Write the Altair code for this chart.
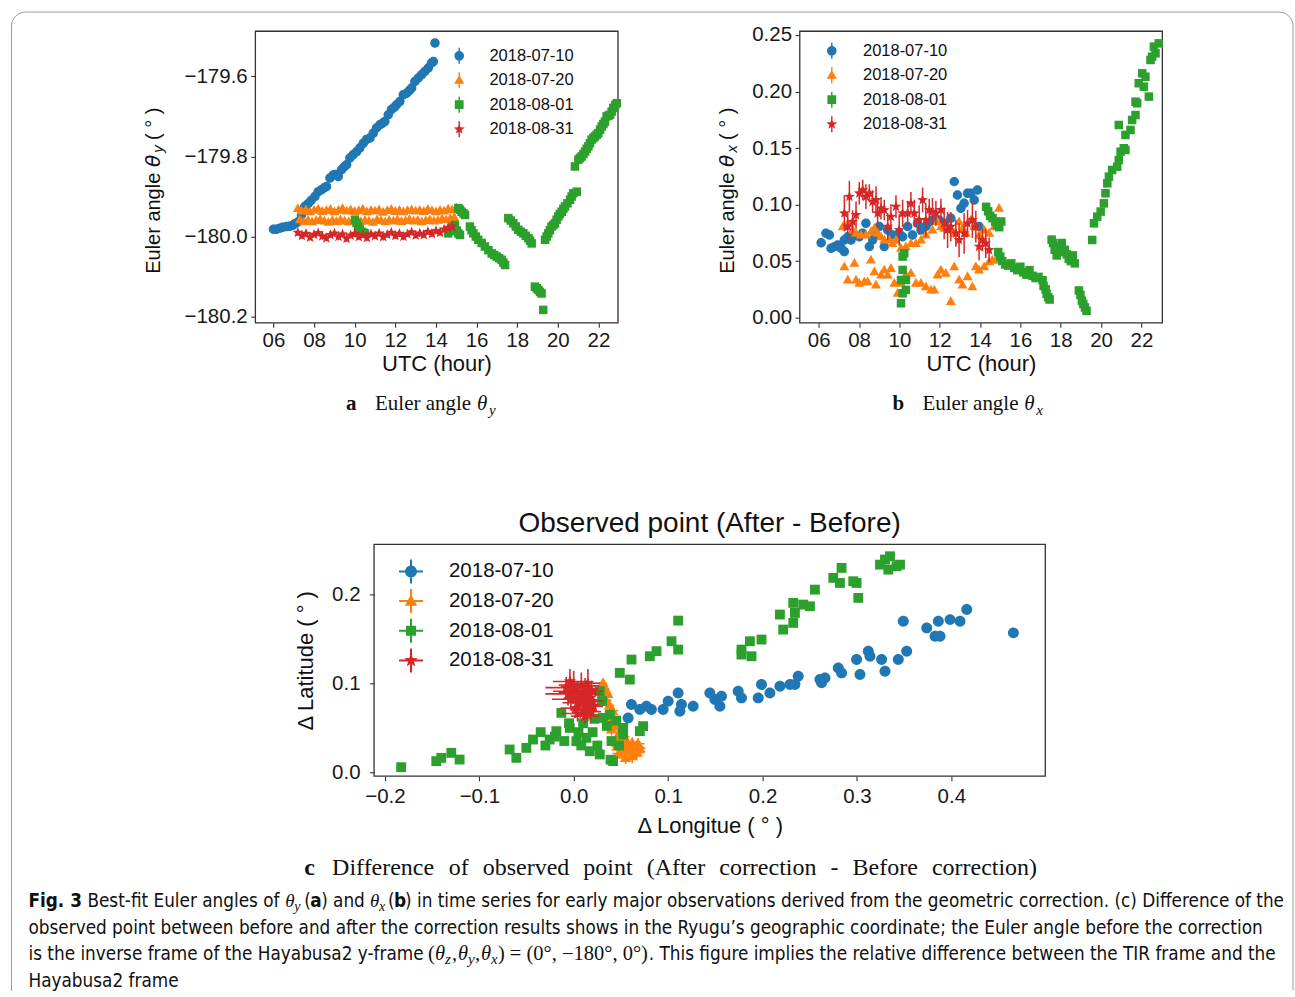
import altair as alt
import pandas as pd

DATES = ["2018-07-10", "2018-07-20", "2018-08-01", "2018-08-31"]
COLORS = ["#1f77b4", "#ff7f0e", "#2ca02c", "#d62728"]

SANS = "Liberation Sans"
SERIF = "Liberation Serif"
MATH = "DejaVu Sans"
NOTE = "DejaVu Sans Condensed, Liberation Sans Narrow, Liberation Sans"
INK = "#111111"

# ---------------- (a) best-fit theta_y [deg] vs UTC hour ----------------
A_BLUE_HOUR = [6.00, 6.15, 6.30, 6.45, 6.64, 6.80, 6.95, 7.05, 7.22, 7.38,
               7.54, 7.70, 7.85, 8.04, 8.20, 8.36, 8.50, 8.61, 8.78, 8.94,
               9.05, 9.19, 9.35, 9.48, 9.60, 9.76, 9.92, 10.09, 10.25, 10.42,
               10.58, 10.75, 10.91, 11.07, 11.24, 11.36, 11.48, 11.65, 11.81, 11.95,
               12.06, 12.22, 12.39, 12.55, 12.68, 12.80, 12.96, 13.13, 13.29, 13.45,
               13.62, 13.78, 13.87, 13.95]
A_BLUE_THY = [-179.982, -179.982, -179.979, -179.977, -179.975, -179.974, -179.972, -179.968, -179.963, -179.946,
              -179.925, -179.918, -179.910, -179.900, -179.888, -179.883, -179.878, -179.875, -179.854, -179.846,
              -179.845, -179.850, -179.833, -179.826, -179.821, -179.804, -179.796, -179.788, -179.779, -179.767,
              -179.758, -179.754, -179.742, -179.729, -179.721, -179.717, -179.713, -179.696, -179.683, -179.677,
              -179.671, -179.663, -179.646, -179.642, -179.636, -179.629, -179.613, -179.604, -179.596, -179.588,
              -179.579, -179.567, -179.563, -179.517]

A_ORANGE_HOUR = [7.2, 7.4, 7.6, 7.8, 8.0, 8.2, 8.4, 8.6, 8.8, 9.0, 9.2, 9.4, 9.6, 9.8, 10.0, 10.2, 10.4, 10.6, 10.8, 11.0,
                 11.2, 11.4, 11.6, 11.8, 12.0, 12.2, 12.4, 12.6, 12.8, 13.0, 13.2, 13.4, 13.6, 13.8, 14.0, 14.2, 14.4, 14.6, 14.8, 15.0,
                 7.3, 7.5, 7.7, 7.9, 8.1, 8.3, 8.5, 8.7, 8.9, 9.1, 9.3, 9.5, 9.7, 9.9, 10.1, 10.3, 10.5, 10.7, 10.9, 11.1,
                 11.3, 11.5, 11.7, 11.9, 12.1, 12.3, 12.5, 12.7, 12.9, 13.1, 13.3, 13.5, 13.7, 13.9, 14.1, 14.3, 14.5, 14.7, 14.9]
A_ORANGE_THY = [-179.930, -179.936, -179.933, -179.938, -179.934, -179.931, -179.937, -179.935, -179.932, -179.938,
                -179.934, -179.930, -179.936, -179.933, -179.937, -179.935, -179.931, -179.938, -179.934, -179.936,
                -179.933, -179.939, -179.935, -179.932, -179.937, -179.934, -179.938, -179.935, -179.933, -179.936,
                -179.934, -179.937, -179.932, -179.935, -179.938, -179.934, -179.936, -179.931, -179.933, -179.928,
                -179.958, -179.962, -179.959, -179.963, -179.960, -179.957, -179.961, -179.964, -179.959, -179.962,
                -179.958, -179.961, -179.963, -179.960, -179.957, -179.962, -179.959, -179.961, -179.964, -179.958,
                -179.960, -179.963, -179.959, -179.961, -179.958, -179.962, -179.960, -179.957, -179.961, -179.959,
                -179.963, -179.960, -179.958, -179.961, -179.959, -179.956, -179.958, -179.955, -179.952]
A_ORANGE_ERR = [0.006, 0.005, 0.007, 0.006, 0.005, 0.006, 0.007, 0.005, 0.006, 0.006,
                0.005, 0.007, 0.006, 0.005, 0.006, 0.007, 0.006, 0.005, 0.006, 0.007,
                0.005, 0.006, 0.006, 0.005, 0.007, 0.006, 0.005, 0.006, 0.007, 0.006,
                0.005, 0.006, 0.006, 0.007, 0.005, 0.006, 0.007, 0.006, 0.005, 0.006,
                0.005, 0.006, 0.006, 0.005, 0.007, 0.006, 0.005, 0.006, 0.006, 0.007,
                0.005, 0.006, 0.005, 0.006, 0.007, 0.006, 0.005, 0.006, 0.006, 0.005,
                0.007, 0.006, 0.005, 0.006, 0.006, 0.007, 0.005, 0.006, 0.006, 0.005,
                0.006, 0.007, 0.006, 0.005, 0.006, 0.006, 0.007, 0.005, 0.006]

A_GREEN_HOUR = [10.01, 10.09, 10.17, 10.25, 10.33, 10.42, 10.50,
                14.60, 14.68, 14.77, 14.85, 14.93, 15.02, 15.10, 15.18,
                15.10, 15.18, 15.26, 15.35, 15.43,
                15.67, 15.75, 15.84, 15.96, 16.08, 16.25, 16.41, 16.58, 16.74, 16.87, 16.99, 17.11, 17.23, 17.32, 17.40,
                17.56, 17.68, 17.81, 17.93, 18.05, 18.18, 18.30, 18.42, 18.55, 18.63, 18.71,
                18.87, 18.96, 19.04, 19.12, 19.20, 19.28,
                19.37, 19.45, 19.53, 19.61, 19.69, 19.78, 19.86, 19.94, 20.02, 20.10, 20.19, 20.27, 20.35, 20.47,
                20.60, 20.68, 20.76, 20.93,
                20.84, 21.01, 21.09, 21.17, 21.26, 21.34, 21.42, 21.50, 21.58, 21.66, 21.75, 21.83, 21.91, 21.99,
                22.08, 22.16, 22.24, 22.32, 22.40, 22.49, 22.57, 22.65, 22.73, 22.82, 22.90]
A_GREEN_THY = [-179.958, -179.966, -179.975, -179.982, -179.988, -179.990, -179.992,
               -179.992, -179.986, -179.979, -179.975, -179.971, -179.985, -179.992, -179.996,
               -179.929, -179.933, -179.938, -179.942, -179.946,
               -179.975, -179.984, -179.992, -180.000, -180.008, -180.016, -180.025, -180.034, -180.042, -180.046,
               -180.050, -180.054, -180.058, -180.065, -180.071,
               -179.954, -179.960, -179.967, -179.975, -179.983, -179.988, -179.992, -179.998, -180.004, -180.010, -180.017,
               -180.125, -180.129, -180.133, -180.138, -180.142, -180.183,
               -180.008, -180.000, -179.992, -179.984, -179.975, -179.971, -179.967, -179.958, -179.950, -179.944,
               -179.938, -179.931, -179.925, -179.917, -179.908, -179.900, -179.892, -179.888,
               -179.825, -179.808, -179.804, -179.800, -179.794, -179.788, -179.781, -179.775, -179.767, -179.758,
               -179.754, -179.750, -179.746, -179.742, -179.733, -179.725, -179.719, -179.713, -179.700, -179.698,
               -179.696, -179.688, -179.679, -179.672, -179.667]

A_RED_HOUR = [7.2, 7.4, 7.6, 7.8, 8.0, 8.2, 8.4, 8.6, 8.8, 9.0, 9.2, 9.4, 9.6, 9.8, 10.0, 10.2, 10.4, 10.6, 10.8, 11.0,
              11.2, 11.4, 11.6, 11.8, 12.0, 12.2, 12.4, 12.6, 12.8, 13.0, 13.2, 13.4, 13.6, 13.8, 14.0, 14.2, 14.4, 14.6, 14.8]
A_RED_THY = [-179.990, -179.998, -179.993, -180.002, -179.995, -179.991, -179.999, -180.004, -179.996, -179.992,
             -180.000, -179.994, -180.005, -179.997, -179.993, -180.001, -179.996, -180.003, -179.994, -179.999,
             -179.992, -180.001, -179.995, -179.990, -179.998, -179.993, -180.000, -179.994, -179.989, -179.997,
             -179.992, -179.996, -179.988, -179.993, -179.986, -179.990, -179.982, -179.978, -179.975]
A_RED_ERR = [0.008, 0.007, 0.009, 0.008, 0.007, 0.008, 0.009, 0.008, 0.007, 0.008,
             0.009, 0.007, 0.008, 0.008, 0.009, 0.007, 0.008, 0.009, 0.008, 0.007,
             0.008, 0.009, 0.008, 0.007, 0.008, 0.008, 0.009, 0.007, 0.008, 0.008,
             0.009, 0.008, 0.007, 0.008, 0.009, 0.008, 0.007, 0.008, 0.008]

# ---------------- (b) best-fit theta_x [deg] vs UTC hour ----------------
B_BLUE_HOUR = [6.12, 6.36, 6.53, 6.61, 6.78, 6.94, 7.11, 7.27, 7.27, 7.44,
               7.60, 7.77, 8.01, 8.18, 8.34, 8.51, 8.67, 8.84, 9.00, 9.25,
               9.42, 9.66, 9.99, 10.16, 10.41, 10.65, 10.90, 11.07, 11.31, 11.40,
               11.64, 11.97, 12.22, 12.55, 12.72, 12.88, 13.05, 13.21, 13.38, 13.54,
               13.71, 13.87, 13.95]
B_BLUE_THX = [0.0663, 0.0746, 0.0731, 0.0613, 0.0628, 0.0643, 0.0613, 0.0584, 0.0687, 0.0716,
              0.0687, 0.0731, 0.0716, 0.0746, 0.0834, 0.0628, 0.0687, 0.0731, 0.0805, 0.0628,
              0.0775, 0.0731, 0.0746, 0.0716, 0.0805, 0.0731, 0.0834, 0.0775, 0.0805, 0.0834,
              0.0864, 0.0864, 0.0834, 0.0879, 0.1203, 0.1085, 0.0967, 0.1011, 0.1100, 0.1100,
              0.1041, 0.1129, 0.0805]

B_ORANGE_HOUR = [7.19, 7.44, 7.68, 7.85, 8.10, 8.34, 8.59, 8.76, 8.92, 9.09,
                 9.25, 9.50, 9.66, 9.83, 10.08, 10.32, 10.57, 10.82, 11.07, 11.31,
                 11.64, 11.89, 12.06, 12.22, 12.47, 12.72, 12.96, 13.13, 13.29, 13.54,
                 13.71, 13.95, 14.20, 14.45, 14.70, 14.94,
                 7.27, 7.44, 7.77, 7.85, 8.01, 8.26, 8.43, 8.59, 8.76, 8.84,
                 9.09, 9.25, 9.42, 9.58, 9.75, 9.91, 10.08, 10.32, 10.57, 10.82,
                 11.07, 11.31, 11.56, 11.73, 11.89, 12.06, 12.30, 12.55, 12.72, 12.96,
                 13.13, 13.38, 13.62, 13.79, 13.95, 14.20, 14.45, 14.61, 14.78]
B_ORANGE_THX = [0.0805, 0.0834, 0.0775, 0.0746, 0.0731, 0.0731, 0.0761, 0.0790, 0.0746, 0.0716,
                0.0687, 0.0687, 0.0657, 0.0687, 0.0613, 0.0628, 0.0657, 0.0657, 0.0687, 0.0731,
                0.0775, 0.0849, 0.0805, 0.0790, 0.0790, 0.0746, 0.0849, 0.0790, 0.0746, 0.0864,
                0.0805, 0.0731, 0.0775, 0.0746, 0.0805, 0.0967,
                0.0451, 0.0333, 0.0481, 0.0333, 0.0304, 0.0318, 0.0318, 0.0510, 0.0407, 0.0289,
                0.0377, 0.0422, 0.0377, 0.0436, 0.0304, 0.0215, 0.0304, 0.0377, 0.0392, 0.0304,
                0.0304, 0.0274, 0.0245, 0.0245, 0.0377, 0.0422, 0.0392, 0.0142, 0.0451, 0.0333,
                0.0289, 0.0363, 0.0274, 0.0451, 0.0422, 0.0451, 0.0495, 0.0510, 0.0510]

B_GREEN_HOUR = [10.16, 10.16, 10.08, 10.16, 10.08, 10.32, 10.32, 10.24,
                14.30, 14.40, 14.50, 14.62, 14.75, 14.85, 14.95, 15.05,
                14.90, 15.00, 15.10, 15.25, 15.40, 15.55, 15.70, 15.85, 16.00, 16.15, 16.30, 16.45, 16.60, 16.75,
                16.90, 17.10,
                17.15, 17.25, 17.30, 17.38, 17.45,
                17.55, 17.62, 17.70, 17.80, 17.90, 18.00, 18.05,
                18.20, 18.30, 18.40, 18.50, 18.60, 18.70,
                18.90, 18.98, 19.05, 19.12, 19.20, 19.28,
                19.56, 19.65, 19.81, 19.98, 20.14, 20.22, 20.31, 20.39, 20.55, 20.80,
                20.88, 20.88, 20.97, 21.13, 21.21, 21.21, 21.46, 21.54, 21.71, 21.71,
                21.79, 21.87, 22.04, 22.12, 22.20, 22.37, 22.45, 22.53, 22.62, 22.70, 22.86]
B_GREEN_THX = [0.0540, 0.0422, 0.0333, 0.0215, 0.0127, 0.0333, 0.0245, 0.0569,
               0.098, 0.094, 0.090, 0.088, 0.085, 0.082, 0.080, 0.085,
               0.058, 0.054, 0.050, 0.047, 0.046, 0.048, 0.044, 0.042, 0.045, 0.040, 0.038, 0.042, 0.037, 0.035,
               0.036, 0.033,
               0.028, 0.025, 0.021, 0.018, 0.016,
               0.069, 0.066, 0.060, 0.055, 0.063, 0.058, 0.066,
               0.060, 0.056, 0.052, 0.050, 0.055, 0.048,
               0.024, 0.020, 0.015, 0.012, 0.009, 0.006,
               0.0687, 0.0834, 0.0893, 0.0938, 0.1011, 0.1100, 0.1188, 0.1247, 0.1306, 0.1335,
               0.1704, 0.1394, 0.1468, 0.1498, 0.1483, 0.1616, 0.1660, 0.1748, 0.1792, 0.1910,
               0.1896, 0.2073, 0.2161, 0.2043, 0.2131, 0.1955, 0.2279, 0.2308, 0.2397, 0.2338, 0.2426]

B_RED_HOUR = [7.27, 7.44, 7.52, 7.68, 7.85, 8.01, 8.18, 8.34, 8.51, 8.67,
              8.84, 8.92, 9.09, 9.25, 9.42, 9.58, 9.83, 9.99, 10.16, 10.41,
              10.57, 10.74, 10.98, 11.15, 11.31, 11.48, 11.64, 11.81, 12.06, 12.22,
              12.39, 12.55, 12.80, 12.96, 13.21, 13.38, 13.62, 13.79, 13.95, 14.12,
              14.28, 14.45]
B_RED_THX = [0.0923, 0.0805, 0.1070, 0.0849, 0.0908, 0.1100, 0.1129, 0.1070, 0.1100, 0.1026,
             0.1041, 0.0923, 0.0967, 0.0952, 0.0805, 0.0893, 0.0982, 0.0775, 0.0923, 0.0923,
             0.1011, 0.0923, 0.0864, 0.1041, 0.0864, 0.0952, 0.0938, 0.0923, 0.0952, 0.0834,
             0.0775, 0.0805, 0.0746, 0.0687, 0.0746, 0.0834, 0.0864, 0.0805, 0.0628, 0.0687,
             0.0657, 0.0598]
B_RED_ERR = [0.016, 0.012, 0.014, 0.010, 0.012, 0.010, 0.009, 0.011, 0.008, 0.010,
             0.012, 0.013, 0.010, 0.009, 0.012, 0.011, 0.010, 0.014, 0.012, 0.011,
             0.010, 0.012, 0.013, 0.011, 0.015, 0.010, 0.012, 0.011, 0.010, 0.014,
             0.016, 0.013, 0.012, 0.015, 0.018, 0.012, 0.016, 0.014, 0.012, 0.010,
             0.013, 0.011]

# ---------------- (c) observed point shift (after - before) [deg] ----------------
C_BLUE_LON = [0.0576, 0.0611, 0.0700, 0.0770, 0.0823, 0.0947, 0.1000, 0.1106, 0.1124, 0.1141,
              0.1265, 0.1442, 0.1495, 0.1565, 0.1548, 0.1742, 0.1777, 0.1954, 0.1989, 0.2078,
              0.2184, 0.2290, 0.2378, 0.2343, 0.2608, 0.2625, 0.2661, 0.2802, 0.2837, 0.2996,
              0.3032, 0.3120, 0.3138, 0.3261, 0.3297, 0.3438, 0.3527, 0.3491, 0.3739, 0.3827,
              0.3862, 0.3880, 0.3986, 0.4092, 0.4163, 0.4657]
C_BLUE_LAT = [0.0610, 0.0760, 0.0704, 0.0742, 0.0704, 0.0704, 0.0798, 0.0891, 0.0685, 0.0760,
              0.0742, 0.0891, 0.0816, 0.0854, 0.0742, 0.0910, 0.0835, 0.0835, 0.0985, 0.0891,
              0.0966, 0.0985, 0.1079, 0.0985, 0.1041, 0.1004, 0.1060, 0.1172, 0.1116, 0.1266,
              0.1097, 0.1360, 0.1303, 0.1266, 0.1135, 0.1266, 0.1360, 0.1697, 0.1622, 0.1528,
              0.1697, 0.1528, 0.1715, 0.1697, 0.1828, 0.1566]

C_ORANGE_LON = [0.031, 0.033, 0.036, 0.034, 0.038, 0.041, 0.036, 0.043, 0.046, 0.040,
                0.049, 0.052, 0.045, 0.055, 0.058, 0.062, 0.066, 0.059, 0.052, 0.046,
                0.067, 0.062, 0.055, 0.048, 0.070, 0.068]
C_ORANGE_LAT = [0.100, 0.094, 0.088, 0.081, 0.075, 0.069, 0.063, 0.058, 0.052, 0.048,
                0.045, 0.040, 0.037, 0.034, 0.030, 0.033, 0.028, 0.024, 0.026, 0.029,
                0.022, 0.018, 0.016, 0.021, 0.027, 0.032]
C_ORANGE_XERR = [0.004, 0.005, 0.004, 0.006, 0.005, 0.006, 0.005, 0.006, 0.007, 0.005,
                 0.006, 0.007, 0.006, 0.007, 0.008, 0.007, 0.008, 0.006, 0.007, 0.006,
                 0.008, 0.007, 0.006, 0.007, 0.006, 0.007]
C_ORANGE_YERR = [0.005, 0.006, 0.005, 0.006, 0.006, 0.005, 0.007, 0.006, 0.006, 0.007,
                 0.006, 0.007, 0.006, 0.007, 0.008, 0.006, 0.007, 0.008, 0.007, 0.006,
                 0.007, 0.008, 0.007, 0.006, 0.007, 0.006]

C_GREEN_LON = [-0.1828, -0.1456, -0.1403, -0.1297, -0.1209, -0.0679, -0.0608, -0.0502, -0.0431, -0.0255,
               -0.0131, -0.0184, -0.0042, 0.0028, 0.0134, 0.0170, 0.0276, 0.0417, 0.0311, 0.0382,
               0.0276, 0.0523, 0.0523, 0.0700, 0.0735, 0.0488, 0.0612, 0.0594, 0.0806, 0.0877,
               0.1036, 0.1106, 0.1106,
               0.1777, 0.1883, 0.1866, 0.1989, 0.1777, 0.2184, 0.2219, 0.2325, 0.2343, 0.2325,
               0.2431, 0.2502, 0.2555, 0.2749, 0.2837, 0.2820, 0.2961, 0.2996, 0.3014, 0.3244,
               0.3297, 0.3350, 0.3420, 0.3456, 0.3332,
               -0.035, -0.030, -0.020, -0.010, -0.005, 0.005, 0.010, 0.008, 0.020, 0.025,
               0.022, 0.015, 0.030, 0.035, 0.045, 0.040, 0.048, 0.039]
C_GREEN_LAT = [0.0056, 0.0124, 0.0161, 0.0217, 0.0142, 0.0255, 0.0161, 0.0273, 0.0367, 0.0367,
               0.0667, 0.0461, 0.0498, 0.0348, 0.0386, 0.0236, 0.0199, 0.0124, 0.0610, 0.0648,
               0.0910, 0.0498, 0.0423, 0.0461, 0.0517, 0.1116, 0.1266, 0.1041, 0.1303, 0.1360,
               0.1472, 0.1378, 0.1704,
               0.1322, 0.1303, 0.1472, 0.1491, 0.1378, 0.1772, 0.1603, 0.1903, 0.1790, 0.1678,
               0.1884, 0.1865, 0.2052, 0.2184, 0.2296, 0.2127, 0.2146, 0.2127, 0.1959, 0.2333,
               0.2390, 0.2427, 0.2315, 0.2333, 0.2277,
               0.045, 0.030, 0.040, 0.035, 0.055, 0.045, 0.055, 0.030, 0.045, 0.030,
               0.060, 0.065, 0.080, 0.052, 0.058, 0.035, 0.030, 0.014]

C_RED_LON = [-0.008, -0.004, 0.000, 0.004, 0.008, 0.012, 0.016, 0.019, 0.006, 0.002,
             -0.003, 0.010, 0.014, 0.018, 0.021, -0.006, 0.004, 0.008, 0.015, 0.012,
             0.019, -0.001, 0.005, 0.011]
C_RED_LAT = [0.095, 0.102, 0.098, 0.090, 0.085, 0.094, 0.088, 0.080, 0.078, 0.072,
             0.082, 0.070, 0.076, 0.068, 0.074, 0.088, 0.066, 0.097, 0.100, 0.063,
             0.091, 0.091, 0.083, 0.080]
C_RED_XERR = [0.022, 0.018, 0.016, 0.020, 0.015, 0.014, 0.013, 0.012, 0.018, 0.016,
              0.020, 0.014, 0.012, 0.011, 0.010, 0.024, 0.017, 0.019, 0.013, 0.015,
              0.012, 0.021, 0.016, 0.014]
C_RED_YERR = [0.012, 0.014, 0.016, 0.011, 0.010, 0.012, 0.013, 0.010, 0.009, 0.011,
              0.010, 0.009, 0.012, 0.010, 0.011, 0.013, 0.009, 0.015, 0.016, 0.008,
              0.012, 0.014, 0.010, 0.011]

HOUR_TICKS = [6, 8, 10, 12, 14, 16, 18, 20, 22]
A_TICKS = [-180.2, -180.0, -179.8, -179.6]
B_TICKS = [0.0, 0.05, 0.10, 0.15, 0.20, 0.25]
C_XTICKS = [-0.2, -0.1, 0.0, 0.1, 0.2, 0.3, 0.4]
C_YTICKS = [0.0, 0.1, 0.2]

# ---------------- marker glyphs (unit box paths) ----------------
M_CIRCLE = "M1,0A1,1,0,1,1,-1,0A1,1,0,1,1,1,0Z"
M_TRIANGLE = "M0,-1.1L1.05,0.75L-1.05,0.75Z"
M_SQUARE = "M-0.9,-0.9H0.9V0.9H-0.9Z"
M_STAR = ("M0,-1.2L0.294,-0.405L1.141,-0.371L0.476,0.155L0.705,0.971L0,0.5"
          "L-0.705,0.971L-0.476,0.155L-1.141,-0.371L-0.294,-0.405Z")

VBAR = "M-0.09,-1H0.09V1H-0.09Z "
LEG_AB = [
    VBAR + "M0.6,0A0.6,0.6,0,1,1,-0.6,0A0.6,0.6,0,1,1,0.6,0Z",
    VBAR + "M0,-0.66L0.63,0.45L-0.63,0.45Z",
    VBAR + "M-0.55,-0.55H0.55V0.55H-0.55Z",
    VBAR + ("M0,-0.72L0.176,-0.243L0.685,-0.222L0.285,0.093L0.423,0.583L0,0.3"
            "L-0.423,0.583L-0.285,0.093L-0.685,-0.222L-0.176,-0.243Z"),
]
CROSS = "M-0.085,-1H0.085V-0.085H1V0.085H0.085V1H-0.085V0.085H-1V-0.085H-0.085Z "
LEG_C = [
    CROSS + "M0.5,0A0.5,0.5,0,1,1,-0.5,0A0.5,0.5,0,1,1,0.5,0Z",
    CROSS + "M0,-0.55L0.52,0.38L-0.52,0.38Z",
    CROSS + "M-0.42,-0.42H0.42V0.42H-0.42Z",
    CROSS + ("M0,-0.6L0.147,-0.202L0.571,-0.185L0.238,0.077L0.353,0.485L0,0.25"
             "L-0.353,0.485L-0.238,0.077L-0.571,-0.185L-0.147,-0.202Z"),
]

ONE = pd.DataFrame({"k": [0]})


def frame(xname, yname, xs, ys, yerr=None, xerr=None):
    d = pd.DataFrame({xname: xs, yname: ys})
    if yerr is not None:
        e = pd.Series(yerr)
        d["ylo"] = d[yname] - e
        d["yhi"] = d[yname] + e
    if xerr is not None:
        e = pd.Series(xerr)
        d["xlo"] = d[xname] - e
        d["xhi"] = d[xname] + e
    return d


def scatter(d, xf, yf, xs, ys, xax, yax, color, shape, size):
    return alt.Chart(d).mark_point(filled=True, opacity=1, size=size, shape=shape, color=color).encode(
        x=alt.X(f"{xf}:Q", scale=xs, axis=xax),
        y=alt.Y(f"{yf}:Q", scale=ys, axis=yax),
    )


def vbars(d, xf, xs, ys, xax, yax, color, width):
    return alt.Chart(d).mark_rule(color=color, strokeWidth=width).encode(
        x=alt.X(f"{xf}:Q", scale=xs, axis=xax),
        y=alt.Y("ylo:Q", scale=ys, axis=yax),
        y2="yhi:Q",
    )


def hbars(d, yf, xs, ys, xax, yax, color, width):
    return alt.Chart(d).mark_rule(color=color, strokeWidth=width).encode(
        x=alt.X("xlo:Q", scale=xs, axis=xax),
        x2="xhi:Q",
        y=alt.Y(f"{yf}:Q", scale=ys, axis=yax),
    )


def legend_layer(paths, size, legend):
    # legend carrier: its own marks sit outside the clipped plot area
    return alt.Chart(pd.DataFrame({"series": DATES})).mark_point(
        filled=True, opacity=1, size=size, clip=True
    ).encode(
        x=alt.value(-600),
        y=alt.value(-600),
        color=alt.Color("series:N", scale=alt.Scale(domain=DATES, range=COLORS), legend=legend),
        shape=alt.Shape("series:N", scale=alt.Scale(domain=DATES, range=paths), legend=legend),
    )


# page position of panel (a)'s plot origin; free text is placed relative to it
AX, AY = 254, 29


def txt(text, x, y, font, size, weight="normal", style="normal", angle=0):
    return alt.Chart(ONE).mark_text(
        text=text, font=font, fontSize=size, fontWeight=weight, fontStyle=style,
        angle=angle, align="left", baseline="alphabetic" if angle == 0 else "middle", color=INK,
    ).encode(x=alt.value(x - AX), y=alt.value(y - AY))


N = 18.8  # figure-legend text size
M = 20.5  # inline math size in the figure legend
TEXT_SEGMENTS = [
    # rotated y titles of (a) and (b)
    ("Euler angle", 153, 272, SANS, 20, "normal", "normal", 270),
    ("θ", 153, 165, MATH, 20, "normal", "italic", 270),
    ("y", 158, 151, MATH, 14, "normal", "italic", 270),
    ("( ° )", 153, 138, SANS, 20, "normal", "normal", 270),
    ("Euler angle", 727, 272, SANS, 20, "normal", "normal", 270),
    ("θ", 727, 165, MATH, 20, "normal", "italic", 270),
    ("x", 732, 151, MATH, 14, "normal", "italic", 270),
    ("( ° )", 727, 138, SANS, 20, "normal", "normal", 270),
    # panel captions
    ("a", 345, 408, SERIF, 21, "bold", "normal", 0),
    ("Euler angle", 374, 408, SERIF, 21, "normal", "normal", 0),
    ("θ", 476, 408, SERIF, 21, "normal", "italic", 0),
    ("y", 488, 413, SERIF, 15, "normal", "italic", 0),
    ("b", 892, 408, SERIF, 21, "bold", "normal", 0),
    ("Euler angle", 922, 408, SERIF, 21, "normal", "normal", 0),
    ("θ", 1024, 408, SERIF, 21, "normal", "italic", 0),
    ("x", 1036, 413, SERIF, 15, "normal", "italic", 0),
    ("c", 303, 874, SERIF, 24, "bold", "normal", 0),
    ("Difference", 331, 874, SERIF, 24, "normal", "normal", 0),
    ("of", 447.7, 874, SERIF, 24, "normal", "normal", 0),
    ("observed", 481.8, 874, SERIF, 24, "normal", "normal", 0),
    ("point", 582.5, 874, SERIF, 24, "normal", "normal", 0),
    ("(After", 645.9, 874, SERIF, 24, "normal", "normal", 0),
    ("correction", 718.6, 874, SERIF, 24, "normal", "normal", 0),
    ("-", 830, 874, SERIF, 24, "normal", "normal", 0),
    ("Before", 852.1, 874, SERIF, 24, "normal", "normal", 0),
    ("correction)", 931.5, 874, SERIF, 24, "normal", "normal", 0),
    # figure legend
    ("Fig. 3", 27, 906, NOTE, N, "bold", "normal", 0),
    ("Best-fit Euler angles of", 86, 906, NOTE, N, "normal", "normal", 0),
    ("θ", 284, 906, SERIF, 19, "normal", "italic", 0),
    ("y", 293, 910, SERIF, 14, "normal", "italic", 0),
    ("(", 303, 906, NOTE, N, "normal", "normal", 0),
    ("a", 309, 906, NOTE, N, "bold", "normal", 0),
    (") and", 320, 906, NOTE, N, "normal", "normal", 0),
    ("θ", 369, 906, SERIF, 19, "normal", "italic", 0),
    ("x", 378, 910, SERIF, 14, "normal", "italic", 0),
    ("(", 387, 906, NOTE, N, "normal", "normal", 0),
    ("b", 393, 906, NOTE, N, "bold", "normal", 0),
    (") in time series for early major observations derived from the geometric correction. (c) Difference of the",
     404, 906, NOTE, N, "normal", "normal", 0),
    ("observed point between before and after the correction results shows in the Ryugu’s geographic coordinate; "
     "the Euler angle before the correction", 27, 933, NOTE, N, "normal", "normal", 0),
    ("is the inverse frame of the Hayabusa2 y-frame", 27, 959, NOTE, N, "normal", "normal", 0),
    ("(", 427, 959, SERIF, M, "normal", "normal", 0),
    ("θ", 434, 959, SERIF, M, "normal", "italic", 0),
    ("z", 444, 963, SERIF, 15, "normal", "italic", 0),
    (",", 451, 959, SERIF, M, "normal", "normal", 0),
    ("θ", 457, 959, SERIF, M, "normal", "italic", 0),
    ("y", 467, 963, SERIF, 15, "normal", "italic", 0),
    (",", 474, 959, SERIF, M, "normal", "normal", 0),
    ("θ", 480, 959, SERIF, M, "normal", "italic", 0),
    ("x", 490, 963, SERIF, 15, "normal", "italic", 0),
    (") = (0°, −180°, 0°)", 497, 959, SERIF, M, "normal", "normal", 0),
    (". This figure implies the relative difference between the TIR frame and the", 648, 959, NOTE, N,
     "normal", "normal", 0),
    ("Hayabusa2 frame", 27, 986, NOTE, N, "normal", "normal", 0),
]

# page frame: rounded top corners, open bottom edge
BW, BH, BR = 1283, 980, 14
border = alt.Chart(ONE).mark_rect(
    fill="transparent", stroke="#9b9b9b", strokeWidth=1,
    cornerRadiusTopLeft=BR, cornerRadiusTopRight=BR,
    strokeDash=[BW + BH - 3 * BR + 1.5708 * BR - 1, BW + 1, BH - BR + 1.5708 * BR + 5],
).encode(x=alt.value(10 - AX), x2=alt.value(10 + BW - AX), y=alt.value(10 - AY), y2=alt.value(10 + BH - AY))

# ---------------- panel (a) ----------------
xa = alt.Scale(domain=[5.1, 22.95], nice=False, zero=False)
ya = alt.Scale(domain=[-180.215, -179.487], nice=False, zero=False)
xa_ax = alt.Axis(values=HOUR_TICKS, format="02d", title="UTC (hour)", titlePadding=3)
ya_ax = alt.Axis(values=A_TICKS, format=".1f", title=None, labelPadding=3.5)
S_AB = 90

a_blue = frame("hour", "th", A_BLUE_HOUR, A_BLUE_THY)
a_orange = frame("hour", "th", A_ORANGE_HOUR, A_ORANGE_THY, yerr=A_ORANGE_ERR)
a_green = frame("hour", "th", A_GREEN_HOUR, A_GREEN_THY)
a_red = frame("hour", "th", A_RED_HOUR, A_RED_THY, yerr=A_RED_ERR)

leg_a = alt.Legend(title=None, orient="none", legendX=196, legendY=16.5, direction="vertical", padding=0,
                   symbolSize=256, symbolStrokeWidth=0, symbolOffset=0, labelOffset=22,
                   labelFont=SANS, labelFontSize=16.5, labelColor=INK, rowPadding=7.5)

panel_a = alt.layer(
    border,
    *[txt(*s) for s in TEXT_SEGMENTS],
    scatter(a_blue, "hour", "th", xa, ya, xa_ax, ya_ax, COLORS[0], M_CIRCLE, S_AB),
    vbars(a_orange, "hour", xa, ya, xa_ax, ya_ax, COLORS[1], 1.3),
    scatter(a_orange, "hour", "th", xa, ya, xa_ax, ya_ax, COLORS[1], M_TRIANGLE, S_AB),
    scatter(a_green, "hour", "th", xa, ya, xa_ax, ya_ax, COLORS[2], M_SQUARE, S_AB),
    vbars(a_red, "hour", xa, ya, xa_ax, ya_ax, COLORS[3], 1.3),
    scatter(a_red, "hour", "th", xa, ya, xa_ax, ya_ax, COLORS[3], M_STAR, S_AB),
    legend_layer(LEG_AB, 256, leg_a),
).properties(width=363, height=292)

# ---------------- panel (b) ----------------
xb = alt.Scale(domain=[5.05, 23.03], nice=False, zero=False)
yb = alt.Scale(domain=[-0.0045, 0.2535], nice=False, zero=False)
xb_ax = alt.Axis(values=HOUR_TICKS, format="02d", title="UTC (hour)", titlePadding=3)
yb_ax = alt.Axis(values=B_TICKS, format=".2f", title=None, labelPadding=3.5)

b_blue = frame("hour", "th", B_BLUE_HOUR, B_BLUE_THX)
b_orange = frame("hour", "th", B_ORANGE_HOUR, B_ORANGE_THX)
b_green = frame("hour", "th", B_GREEN_HOUR, B_GREEN_THX)
b_red = frame("hour", "th", B_RED_HOUR, B_RED_THX, yerr=B_RED_ERR)

leg_b = alt.Legend(title=None, orient="none", legendX=24, legendY=11.5, direction="vertical", padding=0,
                   symbolSize=256, symbolStrokeWidth=0, symbolOffset=0, labelOffset=23,
                   labelFont=SANS, labelFontSize=16.5, labelColor=INK, rowPadding=7.5)

panel_b = alt.layer(
    scatter(b_blue, "hour", "th", xb, yb, xb_ax, yb_ax, COLORS[0], M_CIRCLE, S_AB),
    scatter(b_orange, "hour", "th", xb, yb, xb_ax, yb_ax, COLORS[1], M_TRIANGLE, S_AB),
    scatter(b_green, "hour", "th", xb, yb, xb_ax, yb_ax, COLORS[2], M_SQUARE, S_AB),
    vbars(b_red, "hour", xb, yb, xb_ax, yb_ax, COLORS[3], 1.5),
    scatter(b_red, "hour", "th", xb, yb, xb_ax, yb_ax, COLORS[3], M_STAR, S_AB),
    legend_layer(LEG_AB, 256, leg_b),
).properties(width=363, height=292)

# ---------------- panel (c) ----------------
# panel (c) shares the grid column of (a); its plot spans pixels C_LEFT..C_RIGHT of that cell
CELL_W, C_LEFT, C_RIGHT, C_H = 363, 119, 791, 232
xc = alt.Scale(domain=[-0.2115, 0.4995], range=[C_LEFT, C_RIGHT], nice=False, zero=False)
yc = alt.Scale(domain=[-0.0045, 0.256], nice=False, zero=False)
xc_ax = alt.Axis(values=C_XTICKS, format=".1f", title="Δ Longitue ( ° )", labelPadding=6, titlePadding=8)
yc_ax = alt.Axis(values=C_YTICKS, format=".1f", title="Δ Latitude ( ° )", titlePadding=14,
                 labelPadding=9.5, offset=-C_LEFT)
S_C = 120

c_blue = frame("lon", "lat", C_BLUE_LON, C_BLUE_LAT)
c_orange = frame("lon", "lat", C_ORANGE_LON, C_ORANGE_LAT, yerr=C_ORANGE_YERR, xerr=C_ORANGE_XERR)
c_green = frame("lon", "lat", C_GREEN_LON, C_GREEN_LAT)
c_red = frame("lon", "lat", C_RED_LON, C_RED_LAT, yerr=C_RED_YERR, xerr=C_RED_XERR)

leg_c = alt.Legend(title=None, orient="none", legendX=C_LEFT + 25, legendY=15, direction="vertical", padding=0,
                   symbolSize=576, symbolStrokeWidth=0, symbolOffset=0, labelOffset=26,
                   labelFont=SANS, labelFontSize=20.5, labelColor=INK, rowPadding=5.7)

c_frame = alt.Chart(ONE).mark_rect(fill="transparent", stroke="#333333", strokeWidth=1.3).encode(
    x=alt.value(C_LEFT), x2=alt.value(C_RIGHT), y=alt.value(0), y2=alt.value(C_H)
)

panel_c = alt.layer(
    scatter(c_blue, "lon", "lat", xc, yc, xc_ax, yc_ax, COLORS[0], M_CIRCLE, S_C),
    vbars(c_orange, "lon", xc, yc, xc_ax, yc_ax, COLORS[1], 1.6),
    hbars(c_orange, "lat", xc, yc, xc_ax, yc_ax, COLORS[1], 1.6),
    scatter(c_orange, "lon", "lat", xc, yc, xc_ax, yc_ax, COLORS[1], M_TRIANGLE, S_C),
    scatter(c_green, "lon", "lat", xc, yc, xc_ax, yc_ax, COLORS[2], M_SQUARE, S_C),
    vbars(c_red, "lon", xc, yc, xc_ax, yc_ax, COLORS[3], 1.6),
    hbars(c_red, "lat", xc, yc, xc_ax, yc_ax, COLORS[3], 1.6),
    scatter(c_red, "lon", "lat", xc, yc, xc_ax, yc_ax, COLORS[3], M_STAR, S_C),
    c_frame,
    legend_layer(LEG_C, 576, leg_c),
).properties(
    width=CELL_W, height=C_H,
    view=alt.ViewBackground(strokeOpacity=0),
    title=alt.TitleParams("Observed point (After - Before)", font=SANS, fontSize=28, fontWeight="normal",
                          color=INK, offset=6, frame="group", anchor="middle",
                          dx=(C_LEFT + C_RIGHT) / 2 - CELL_W / 2),
)

chart = alt.concat(
    panel_a, panel_b, panel_c,
    columns=2,
    spacing={"row": 222, "column": 182},
    bounds="flush",
).resolve_scale(
    color="independent", shape="independent"
).resolve_legend(
    color="independent", shape="independent"
).properties(
    padding={"left": 9.5, "top": 9.5, "right": 0, "bottom": 0},
    background="white",
).configure_view(
    stroke="#333333", strokeWidth=1.3
).configure_axis(
    domain=False, grid=False, ticks=True, tickColor="#333333", tickWidth=1.1, tickSize=4.5,
    labelFont=SANS, labelFontSize=20.5, labelColor="#1a1a1a", labelPadding=3, labelOverlap=False,
    titleFont=SANS, titleFontSize=22, titleFontWeight="normal", titleColor=INK,
)

chart.save("out.html", embed_options={"renderer": "svg", "actions": False})
